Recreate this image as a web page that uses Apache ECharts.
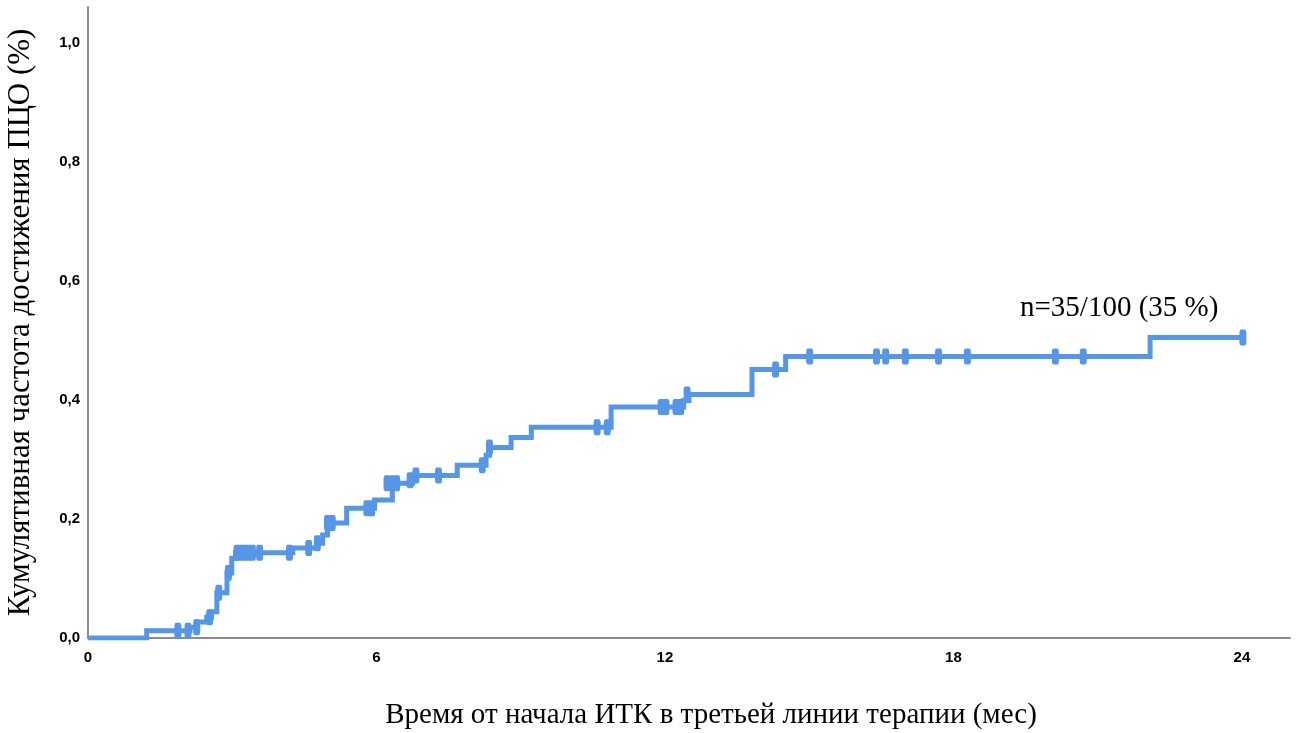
<!DOCTYPE html>
<html>
<head>
<meta charset="utf-8">
<script src="https://cdn.jsdelivr.net/npm/echarts@6/dist/echarts.min.js"></script>
<style>html,body{margin:0;padding:0;background:#fff}#c{width:1302px;height:733px}</style>
</head>
<body>
<div id="c"></div>
<script>
// Step (event) times in months and cumulative incidence after each step
const stepTimes = [0, 1.22, 2.12, 2.28, 2.47, 2.57, 2.68, 2.89, 2.99, 3.07, 4.26, 4.77, 4.88, 4.98, 5.38, 5.96, 6.33, 6.75, 7.68, 8.28, 8.35, 8.80, 9.22, 10.88, 12.39, 12.50, 13.81, 14.51, 22.09, 24.02];
const stepValues = [0, 0.012, 0.018, 0.027, 0.035, 0.044, 0.076, 0.109, 0.134, 0.143, 0.151, 0.159, 0.173, 0.193, 0.218, 0.232, 0.260, 0.273, 0.290, 0.307, 0.320, 0.337, 0.354, 0.388, 0.399, 0.409, 0.451, 0.473, 0.505, 0.505];
// Censored observations
const censorTimes = [1.87, 2.08, 2.26, 2.53, 2.72, 2.92, 3.10, 3.18, 3.26, 3.34, 3.42, 3.57, 4.19, 4.59, 4.77, 4.98, 5.08, 5.80, 5.90, 6.22, 6.33, 6.42, 6.70, 6.82, 7.29, 8.20, 8.35, 10.59, 10.80, 11.92, 12.02, 12.23, 12.33, 12.46, 14.30, 15.01, 16.40, 16.59, 17.00, 17.69, 18.29, 20.12, 20.70, 24.02];
const censorValues = [0.012, 0.012, 0.018, 0.035, 0.076, 0.109, 0.143, 0.143, 0.143, 0.143, 0.143, 0.143, 0.143, 0.151, 0.159, 0.193, 0.193, 0.218, 0.218, 0.260, 0.260, 0.260, 0.265, 0.273, 0.273, 0.290, 0.320, 0.354, 0.354, 0.388, 0.388, 0.388, 0.388, 0.409, 0.451, 0.473, 0.473, 0.473, 0.473, 0.473, 0.473, 0.473, 0.473, 0.505];
const xTicks = [0, 6, 12, 18, 24];
const yTicks = [0, 0.2, 0.4, 0.6, 0.8, 1.0];
const annotation = 'n=35/100 (35 %)';
const xTitle = 'Время от начала ИТК в третьей линии терапии (мес)';
const yTitle = 'Кумулятивная частота достижения ПЦО (%)';

const lineColor = '#5596e6';
const chart = echarts.init(document.getElementById('c'), null, {renderer: 'canvas'});
chart.setOption({
  animation: false,
  grid: {left: 88, right: 12, top: 7, bottom: 95, containLabel: false, outerBoundsMode: 'none'},
  xAxis: {
    type: 'value', min: 0, max: 25, interval: 6,
    axisLine: {show: true, lineStyle: {color: '#8c8c8c', width: 2}},
    axisTick: {show: false},
    splitLine: {show: false},
    axisLabel: {showMaxLabel: false, margin: 12, color: '#000', fontFamily: 'Liberation Sans', fontWeight: 'bold', fontSize: 15,
      formatter: v => xTicks.includes(v) ? String(v) : ''},
    name: xTitle, nameLocation: 'middle', nameGap: 63,
    nameTextStyle: {fontFamily: 'Liberation Serif', fontSize: 29, color: '#000', padding: [0, 0, 0, 44]}
  },
  yAxis: {
    type: 'value', min: 0, max: 1.06, interval: 0.2,
    axisLine: {show: true, lineStyle: {color: '#8c8c8c', width: 2}},
    axisTick: {show: false},
    splitLine: {show: false},
    axisLabel: {showMaxLabel: false, margin: 8, color: '#000', fontFamily: 'Liberation Sans', fontWeight: 'bold', fontSize: 15,
      formatter: v => yTicks.some(t => Math.abs(t - v) < 1e-6) ? v.toFixed(1).replace('.', ',') : ''},
    name: yTitle, nameLocation: 'middle', nameGap: 52,
    nameTextStyle: {fontFamily: 'Liberation Serif', fontSize: 31, color: '#000'}
  },
  series: [
    {
      type: 'line', step: 'end', showSymbol: false,
      data: stepTimes.map((t, i) => [t, stepValues[i]]),
      lineStyle: {color: lineColor, width: 5, cap: 'butt', join: 'miter'}
    },
    {
      type: 'scatter', symbol: 'roundRect', symbolSize: [7, 16],
      data: censorTimes.map((t, i) => [t, censorValues[i]]),
      itemStyle: {color: lineColor, opacity: 1}
    }
  ],
  graphic: [{
    type: 'text', left: 1020, top: 294,
    style: {text: annotation, fontFamily: 'Liberation Serif', fontSize: 29, fill: '#000'}
  }]
});
</script>
</body>
</html>
